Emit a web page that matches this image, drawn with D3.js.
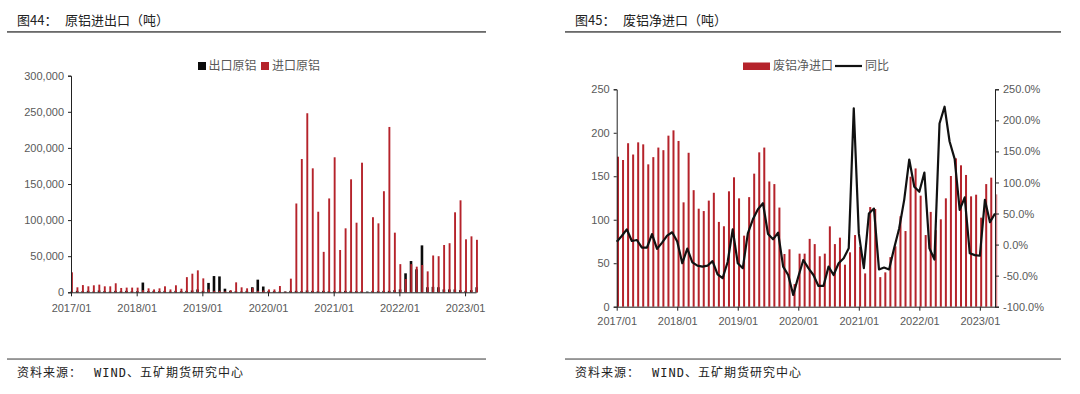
<!DOCTYPE html>
<html>
<head>
<meta charset="utf-8">
<script src="https://cdn.jsdelivr.net/npm/d3@7"></script>
<style>
  body { margin: 0; background: #fff; }
  svg text { font-family: "Liberation Sans", Arial, sans-serif; }
  .cjk { font-family: "Noto Sans CJK SC", sans-serif; }
  .axis text { fill: #595959; font-size: 11px; }
  .axis path, .axis line { stroke: #222; }
</style>
</head>
<body>
<script>
// months shown in the two charts
const fmtMonth = d3.timeFormat("%Y/%m");
const monthsL = d3.timeMonth.range(new Date(2017, 0, 1), new Date(2023, 3, 1)).map(fmtMonth); // 2017/01 - 2023/03
const monthsR = d3.timeMonth.range(new Date(2017, 0, 1), new Date(2023, 4, 1)).map(fmtMonth); // 2017/01 - 2023/04

// 图44 原铝进出口 (吨)
const exportsAl = [
  1000, 2000, 1500, 2000, 1000, 2500, 1500, 1000, 2000, 1500, 2000, 1500,
  1500, 13500, 1500, 2000, 1500, 2000, 1000, 2000, 1500, 2000, 2500, 4000,
  2000, 13000, 22500, 22000, 5000, 2000, 1500, 1000, 2000, 7000, 17500, 8000,
  2000, 1500, 1000, 1000, 2000, 2000, 1500, 2500, 2000, 1500, 2000, 1500,
  1500, 1500, 2000, 2000, 1500, 1500, 1000, 2000, 1500, 2000, 2000, 3000,
  4000, 26300, 43300, 31800, 65000, 7000, 7500, 7000, 4000, 4000, 4000, 3000,
  2000, 3000, 7000
];
const importsAl = [
  27700, 6900, 10000, 8300, 9700, 10600, 8300, 8300, 12500, 6000, 6500, 6500,
  6500, 3000, 5500, 4000, 5500, 8300, 4000, 9700, 5000, 21000, 25800, 30400,
  19300, 4000, 2000, 2000, 1500, 3000, 13800, 6900, 5500, 6000, 2000, 2500,
  4000, 4000, 8700, 1000, 18900, 123000, 184600, 248000, 171700, 111600, 56000, 130000,
  187000, 58600, 88600, 156500, 96400, 179500, 0, 104000, 95500, 140000, 229000, 82600,
  39000, 18400, 39000, 35500, 37800, 29000, 51000, 50000, 65500, 68000, 110800, 127400,
  73400, 77500, 72700
];
const yTicksL = [0, 50000, 100000, 150000, 200000, 250000, 300000];

// 图45 废铝净进口 + 同比
const scrapNet = [
  172.5, 168.7, 188, 175, 189, 186.7, 163.7, 172, 183, 180, 196.7, 202.8,
  190.6, 120, 177, 134, 112.7, 110, 122, 131, 97.5, 92.5, 132.7, 148.8,
  124.6, 81.7, 126, 153, 177.5, 183, 144, 141, 114, 60.6, 66, 26,
  61, 61, 78, 72, 58, 61, 92.4, 72, 79.4, 48.3, 62.5, 82.4,
  68.6, 38.3, 114.6, 112.3, 34, 39.5, 57, 69.4, 104, 87, 149.5, 159,
  127.7, 82.4, 109, 88, 100.5, 124.6, 150.3, 170.6, 162.6, 151.5, 126.9, 128.8,
  102.4, 141, 148.4, 129.2
];
const scrapYoy = [
  4.7, 13.8, 24.6, 5.8, 7.4, -4.9, -4.9, 17, -7, 3.1, 14.4, 19.8,
  5, -30, -6.5, -28.6, -34, -35.5, -34, -26.7, -48, -54, -28, 24.6,
  -30, -38, 18, 40.7, 56.8, 66.5, 17, 8.5, 19.2, -35.5, -49, -81,
  -51.7, -24.8, -38, -49, -66.6, -66.6, -35.5, -49, -30, -22, -6, 219.4,
  18, -38, 50, 58, -40, -37, -40, -6, 26, 72, 137, 93,
  85, 116, -6, -24, 195, 222, 166, 138, 56, 76, -14, -17,
  -18, 72, 36, 50
];
const yTicksR = [0, 50, 100, 150, 200, 250];
const yTicksR2 = [-100, -50, 0, 50, 100, 150, 200, 250];

const red = "#b5232b";
const svg = d3.select("body").append("svg").attr("width", 1080).attr("height", 394);

// frame: titles, rules, source notes
function panelFrame(x0, x1, label, title) {
  svg.append("rect").attr("x", x0).attr("y", 31).attr("width", x1 - x0).attr("height", 1.8).attr("fill", "#6a6a6a");
  svg.append("rect").attr("x", x0).attr("y", 358.3).attr("width", x1 - x0).attr("height", 1.5).attr("fill", "#7a7a7a");
  svg.append("text").attr("class", "cjk").attr("x", x0 + 10).attr("y", 20).attr("dy", "0.35em")
    .attr("font-size", 13).attr("fill", "#222").text(label);
  svg.append("text").attr("class", "cjk").attr("x", x0 + 58).attr("y", 20).attr("dy", "0.35em")
    .attr("font-size", 13).attr("fill", "#222").text(title);
  svg.append("text").attr("class", "cjk").attr("x", x0 + 10).attr("y", 373).attr("dy", "0.35em")
    .attr("font-size", 12).attr("letter-spacing", 1).attr("fill", "#222").text("资料来源：");
  const src = svg.append("text").attr("x", x0 + 87).attr("y", 373).attr("dy", "0.35em")
    .attr("font-size", 12).attr("fill", "#222");
  src.append("tspan").attr("font-family", "DejaVu Sans Mono").attr("letter-spacing", 1).text("WIND");
  src.append("tspan").attr("class", "cjk").attr("letter-spacing", 1).text("、五矿期货研究中心");
}
panelFrame(7, 486, "图44：", "原铝进出口（吨）");
panelFrame(565, 1061, "图45：", "废铝净进口（吨）");

// ---------- left chart ----------
const xL = d3.scalePoint().domain(monthsL).range([71, 476]);
const yL = d3.scaleLinear().domain([0, 300000]).range([292.3, 75.7]);

const gL = svg.append("g");
gL.selectAll(".exp").data(exportsAl).join("rect")
  .attr("class", "exp")
  .attr("x", (d, i) => xL(monthsL[i]) - 0.6)
  .attr("width", 2.6)
  .attr("y", d => yL(d))
  .attr("height", d => yL(0) - yL(d))
  .attr("fill", "#0b0b0b");
gL.selectAll(".imp").data(importsAl).join("rect")
  .attr("class", "imp")
  .attr("x", (d, i) => xL(monthsL[i]))
  .attr("width", 1.9)
  .attr("y", d => yL(d))
  .attr("height", d => yL(0) - yL(d))
  .attr("fill", red);

svg.append("g").attr("class", "axis").attr("transform", "translate(71,0)")
  .call(d3.axisLeft(yL).tickValues(yTicksL).tickSize(3).tickPadding(4).tickFormat(d3.format(",")));
svg.append("g").attr("class", "axis").attr("transform", "translate(0,292.3)")
  .call(d3.axisBottom(xL).tickValues(monthsL.filter(m => m.endsWith("/01")))
    .tickSize(4).tickSizeOuter(0).tickPadding(8));

// legend left
svg.append("rect").attr("x", 198).attr("y", 62).attr("width", 8).attr("height", 8).attr("fill", "#0b0b0b");
svg.append("text").attr("class", "cjk").attr("x", 208.5).attr("y", 66).attr("dy", "0.35em")
  .attr("font-size", 12).attr("fill", "#595959").text("出口原铝");
svg.append("rect").attr("x", 261).attr("y", 62).attr("width", 8).attr("height", 8).attr("fill", red);
svg.append("text").attr("class", "cjk").attr("x", 272).attr("y", 66).attr("dy", "0.35em")
  .attr("font-size", 12).attr("fill", "#595959").text("进口原铝");

// ---------- right chart ----------
const xR = d3.scalePoint().domain(monthsR).range([616.7, 995]);
const yR = d3.scaleLinear().domain([0, 250]).range([306.7, 89.3]);
const yR2 = d3.scaleLinear().domain([-100, 250]).range([306.7, 89.3]);

svg.append("g").selectAll("rect").data(scrapNet).join("rect")
  .attr("x", (d, i) => xR(monthsR[i]) + 0.3)
  .attr("width", 2)
  .attr("y", d => yR(d))
  .attr("height", d => yR(0) - yR(d))
  .attr("fill", red)
  .attr("fill-opacity", (d, i) => i === scrapNet.length - 1 ? 0.55 : 1);

svg.append("path")
  .datum(scrapYoy)
  .attr("fill", "none")
  .attr("stroke", "#111")
  .attr("stroke-width", 2.2)
  .attr("stroke-linejoin", "round")
  .attr("d", d3.line().x((d, i) => xR(monthsR[i])).y(d => yR2(d)));

svg.append("g").attr("class", "axis").attr("transform", "translate(616.7,0)")
  .call(d3.axisLeft(yR).tickValues(yTicksR).tickSize(3).tickPadding(4));
svg.append("g").attr("class", "axis").attr("transform", "translate(995,0)")
  .call(d3.axisRight(yR2).tickValues(yTicksR2).tickSize(4).tickPadding(4).tickFormat(d => d.toFixed(1) + "%"));
svg.append("g").attr("class", "axis").attr("transform", "translate(0,306.7)")
  .call(d3.axisBottom(xR).tickValues(monthsR.filter(m => m.endsWith("/01")))
    .tickSize(4).tickSizeOuter(0).tickPadding(7));

// legend right
svg.append("rect").attr("x", 743).attr("y", 62.5).attr("width", 27).attr("height", 7.5).attr("fill", red);
svg.append("text").attr("class", "cjk").attr("x", 773).attr("y", 66).attr("dy", "0.35em")
  .attr("font-size", 12).attr("fill", "#595959").text("废铝净进口");
svg.append("line").attr("x1", 835).attr("x2", 862).attr("y1", 66).attr("y2", 66)
  .attr("stroke", "#111").attr("stroke-width", 2.2);
svg.append("text").attr("class", "cjk").attr("x", 865).attr("y", 66).attr("dy", "0.35em")
  .attr("font-size", 12).attr("fill", "#595959").text("同比");
</script>
</body>
</html>
